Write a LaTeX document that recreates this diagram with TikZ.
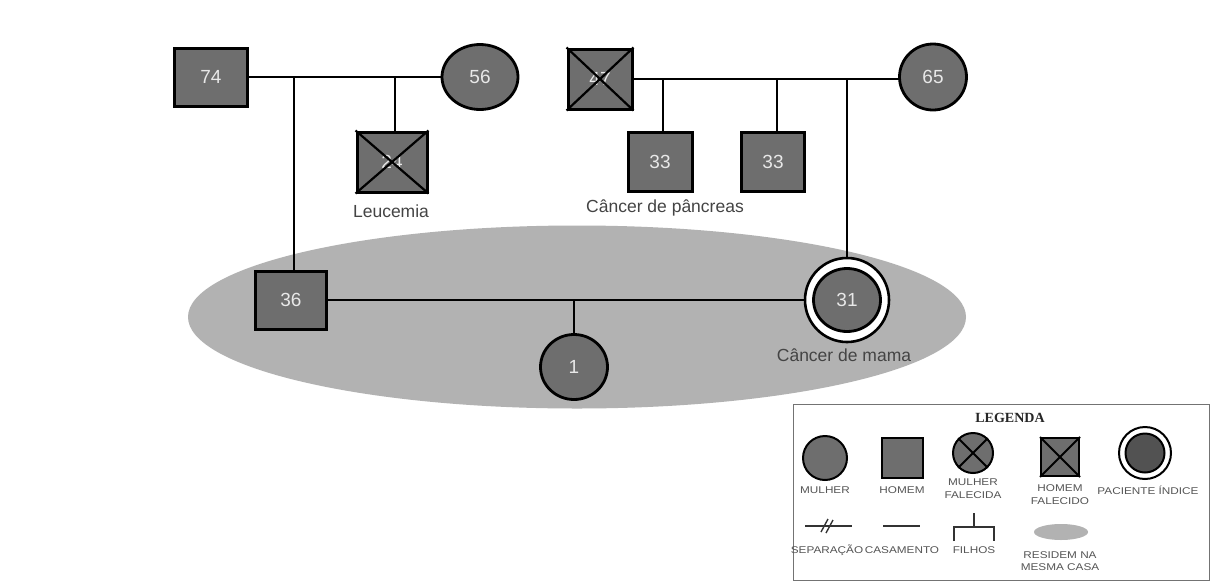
\documentclass[tikz,border=0pt]{standalone}
\usepackage{fontspec}
\setmainfont{Liberation Sans}
\newfontfamily\legserif{Liberation Serif}
\newfontfamily\legfont[FakeStretch=1.2]{Liberation Sans}
\usetikzlibrary{shapes.geometric}
\definecolor{symfill}{HTML}{6E6E6E}
\definecolor{housefill}{HTML}{B2B2B2}
\definecolor{numtext}{HTML}{E8E8E8}
\definecolor{labtext}{HTML}{444444}
\definecolor{legtext}{HTML}{555555}
\begin{document}
\begin{tikzpicture}[x=1pt,y=-1pt,
  link/.style={line width=2.8pt, black},
  numfont/.style={font=\fontsize{19}{19}\selectfont, text=numtext},
  male/.style={draw=black, line width=3pt, fill=symfill, rectangle,
    minimum width=#1, inner sep=0pt, numfont},
  male/.default=73pt,
  female/.style={draw=black, line width=2.8pt, fill=symfill, ellipse,
    inner sep=0pt, numfont},
  cross/.style={black, line width=2.2pt},
  note/.style={font=\fontsize{17.5}{17.5}\selectfont, text=labtext},
  leglab/.style={font=\legfont\fontsize{9.8}{12.5}\selectfont, text=legtext, align=center},
  legsym/.style={draw=black, line width=2pt, fill=symfill, inner sep=0pt},
  legline/.style={black!80, line width=1.8pt}
]
\useasboundingbox (0,0) rectangle (1211,582);
\fill[white] (0,0) rectangle (1211,582);

% shared household
\node[ellipse, fill=housefill, minimum width=778pt, minimum height=183pt] (house) at (577,317) {};

% first family (paternal side)
\node[male, minimum height=58pt] (g74) at (211,77) {74};
\node[female, minimum width=76pt, minimum height=65pt] (g56) at (480,77) {56};
\node[male=70pt, minimum height=60pt] (uncle) at (392,162) {24};
\draw[cross] (uncle.north west) -- (uncle.south east)
  (uncle.north east) -- (uncle.south west);
\node[note] (leu) at (391,211) {Leucemia};

% second family (maternal side)
\node[male=64pt, minimum height=60pt] (g47) at (600,79) {47};
\draw[cross] (g47.north west) -- (g47.south east)
  (g47.north east) -- (g47.south west);
\node[female, minimum width=67pt, minimum height=66pt] (g65) at (933,77) {65};
\node[male=64pt, minimum height=59pt] (s1) at (660,162) {33};
\node[male=63pt, minimum height=59pt] (s2) at (773,162) {33};
\node[note] (pan) at (665,208) {Câncer de pâncreas};

% couple and daughter
\node[male=71pt, minimum height=58pt] (f36) at (291,300) {36};
\node[draw=black, line width=2.6pt, fill=white, circle, minimum size=84pt, inner sep=0pt] (w31o) at (847,300) {};
\node[female, minimum width=67pt, minimum height=63pt] (w31) at (847,300) {31};
\node[note] (mama) at (844,355) {Câncer de mama};
\node[female, minimum width=67pt, minimum height=65pt] (d1) at (574,367) {1};

% marriages
\draw[link] (g74.east) -- (g56.west);
\draw[link] (g47.east) -- (g47.east -| g65.west);
\draw[link] (f36.east) -- (w31o.west);

% descent lines
\coordinate (a1) at (294,77);
\coordinate (a2) at (395,77);
\coordinate (b1) at (663,79);
\coordinate (b2) at (777,79);
\coordinate (b3) at (847,79);
\coordinate (c1) at (574,300);
\draw[link] (a1) -- (a1 |- f36.north);
\draw[link] (a2) -- (a2 |- uncle.north);
\draw[link] (b1) -- (b1 |- s1.north);
\draw[link] (b2) -- (b2 |- s2.north);
\draw[link] (b3) -- (w31o.north);
\draw[link] (c1) -- (d1.north);

% legend
\node[draw=black!55, line width=1pt, fill=white, minimum width=416pt, minimum height=176pt, inner sep=0pt] (leg) at (1001,492.5) {};
\node[font=\legserif\bfseries\fontsize{14}{14}\selectfont, text=black!85] (legt) at (1010,418) {LEGENDA};

\node[legsym, circle, minimum size=44pt] (lw) at (825,458) {};
\node[leglab] (lwl) at (825,490) {MULHER};
\node[legsym, minimum width=41pt, minimum height=40pt] (lm) at (902,458) {};
\node[leglab] (lml) at (902,490) {HOMEM};
\node[legsym, circle, minimum size=40pt] (lwd) at (973,453) {};
\draw[legline, black] (lwd.north west) -- (lwd.south east) (lwd.north east) -- (lwd.south west);
\node[leglab] (lwdl) at (973,488.5) {MULHER\\FALECIDA};
\node[legsym, minimum width=38pt, minimum height=38pt] (lmd) at (1060,457) {};
\draw[legline, black] (lmd.north west) -- (lmd.south east) (lmd.north east) -- (lmd.south west);
\node[leglab] (lmdl) at (1060,494.5) {HOMEM\\FALECIDO};
\node[legsym, fill=white, circle, minimum size=52pt] (lpo) at (1145,453) {};
\node[legsym, fill=black!68, circle, minimum size=39pt] (lp) at (1145,453) {};
\node[leglab] (lpl) at (1148,490) {PACIENTE ÍNDICE};

% legend line symbols
\coordinate (sepL) at (805,526);
\coordinate (sepR) at (852,526);
\draw[legline] (sepL) -- (sepR);
\draw[legline, line width=1.4pt] (821,532) -- (828,519) (826,533) -- (833,520);
\node[leglab] (sepl) at (827,550) {SEPARAÇÃO};
\coordinate (casL) at (883,526);
\coordinate (casR) at (920,526);
\draw[legline] (casL) -- (casR);
\node[leglab] (casl) at (902,550) {CASAMENTO};
\coordinate (filL) at (954,541);
\coordinate (filR) at (994,541);
\coordinate (filT) at (974,513);
\draw[legline] (filL) -- (954,527) -- (994,527) -- (filR);
\draw[legline] (filT) -- (974,527);
\node[leglab] (fill) at (974,550) {FILHOS};
\node[ellipse, fill=housefill, minimum width=54pt, minimum height=16pt, inner sep=0pt] (lh) at (1061,532) {};
\node[leglab] (lhl) at (1060,561) {RESIDEM NA\\MESMA CASA};
\end{tikzpicture}
\end{document}
